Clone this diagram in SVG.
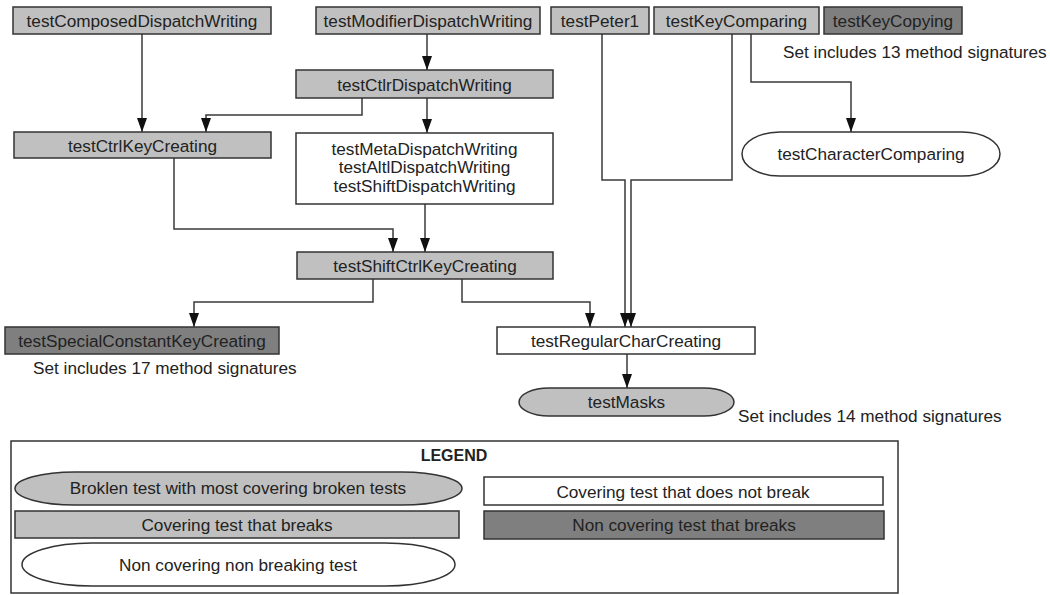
<svg xmlns="http://www.w3.org/2000/svg" width="1050" height="595" viewBox="0 0 1050 595">
<style>
text{font-family:"Liberation Sans",Arial,Helvetica,sans-serif;font-size:17.2px;fill:#222;text-anchor:middle}
.note{text-anchor:start}
.lg{font-weight:bold;font-size:16px}
.box{stroke:#333;stroke-width:1.5}
.cov{fill:#c0c0c0}
.non{fill:#7f7f7f}
.ok{fill:#fff}
.conn path{fill:none;stroke:#3a3a3a;stroke-width:1.5}
</style>
<defs>
<marker id="ah" viewBox="0 0 14 10" refX="14" refY="5" markerWidth="14" markerHeight="10" markerUnits="userSpaceOnUse" orient="auto">
<path d="M0,0 L14,5 L0,10 Z" fill="#111"/>
</marker>
</defs>
<rect width="1050" height="595" fill="#fff"/>

<g class="conn">
<path d="M142,34 V132" marker-end="url(#ah)"/>
<path d="M427,34 V70" marker-end="url(#ah)"/>
<path d="M362,98 V115 H206 V132" marker-end="url(#ah)"/>
<path d="M427,98 V133" marker-end="url(#ah)"/>
<path d="M174,158 V229 H393 V252" marker-end="url(#ah)"/>
<path d="M425,204 V252" marker-end="url(#ah)"/>
<path d="M373,279 V302 H194 V327" marker-end="url(#ah)"/>
<path d="M462,279 V302 H590 V327" marker-end="url(#ah)"/>
<path d="M602,34 V180 H625 V327" marker-end="url(#ah)"/>
<path d="M732,34 V180 H631 V327" marker-end="url(#ah)"/>
<path d="M751,34 V82 H851 V132" marker-end="url(#ah)"/>
<path d="M627,354 V388" marker-end="url(#ah)"/>
</g>

<g id="testComposedDispatchWriting"><rect class="box cov" x="13" y="7" width="258" height="27"/><text x="142" y="27">testComposedDispatchWriting</text></g>
<g id="testModifierDispatchWriting"><rect class="box cov" x="316" y="7" width="224" height="27"/><text x="428" y="27">testModifierDispatchWriting</text></g>
<g id="testPeter1"><rect class="box cov" x="551" y="7" width="98" height="27"/><text x="600" y="27">testPeter1</text></g>
<g id="testKeyComparing"><rect class="box cov" x="654" y="7" width="165" height="27"/><text x="736.5" y="27">testKeyComparing</text></g>
<g id="testKeyCopying"><rect class="box non" x="824" y="7" width="138" height="27"/><text x="893" y="27">testKeyCopying</text></g>
<text class="note" x="783" y="58">Set includes 13 method signatures</text>

<g id="testCtlrDispatchWriting"><rect class="box cov" x="296" y="70" width="257" height="28"/><text x="424.5" y="90.5">testCtlrDispatchWriting</text></g>
<g id="testCtrlKeyCreating"><rect class="box cov" x="14" y="132" width="257" height="26"/><text x="142.5" y="151.5">testCtrlKeyCreating</text></g>
<g id="dispatchGroup"><rect class="box ok" x="296" y="133" width="257" height="71"/>
<text x="424.5" y="154.5">testMetaDispatchWriting</text>
<text x="424.5" y="173">testAltlDispatchWriting</text>
<text x="424.5" y="191.5">testShiftDispatchWriting</text></g>
<g id="testCharacterComparing"><rect class="box ok" x="742" y="132" width="258" height="44" rx="38" ry="22"/><text x="871" y="160">testCharacterComparing</text></g>

<g id="testShiftCtrlKeyCreating"><rect class="box cov" x="297" y="252" width="256" height="27"/><text x="425" y="272">testShiftCtrlKeyCreating</text></g>
<g id="testSpecialConstantKeyCreating"><rect class="box non" x="5" y="327" width="274" height="27"/><text x="142" y="347">testSpecialConstantKeyCreating</text></g>
<text class="note" x="33" y="374">Set includes 17 method signatures</text>
<g id="testRegularCharCreating"><rect class="box ok" x="497" y="327" width="258" height="27"/><text x="626" y="347">testRegularCharCreating</text></g>
<g id="testMasks"><rect class="box cov" x="519" y="388" width="215" height="28" rx="30" ry="14"/><text x="626.5" y="408">testMasks</text></g>
<text class="note" x="738" y="422">Set includes 14 method signatures</text>

<g id="legend">
<rect x="11" y="441" width="887" height="152" fill="#fff" stroke="#333" stroke-width="1.5"/>
<text class="lg" x="454" y="461">LEGEND</text>
<rect class="box cov" x="15" y="472" width="447" height="33" rx="60" ry="16.5"/>
<text x="238" y="494">Broklen test with most covering broken tests</text>
<rect class="box cov" x="15" y="511" width="444" height="27"/>
<text x="237" y="530.5">Covering test that breaks</text>
<rect class="box ok" x="22" y="543" width="433" height="43" rx="70" ry="21.5"/>
<text x="238" y="571">Non covering non breaking test</text>
<rect class="box ok" x="484" y="477" width="399" height="28"/>
<text x="683" y="497.5">Covering test that does not break</text>
<rect class="box non" x="484" y="511" width="400" height="28"/>
<text x="684" y="531">Non covering test that breaks</text>
</g>
</svg>
